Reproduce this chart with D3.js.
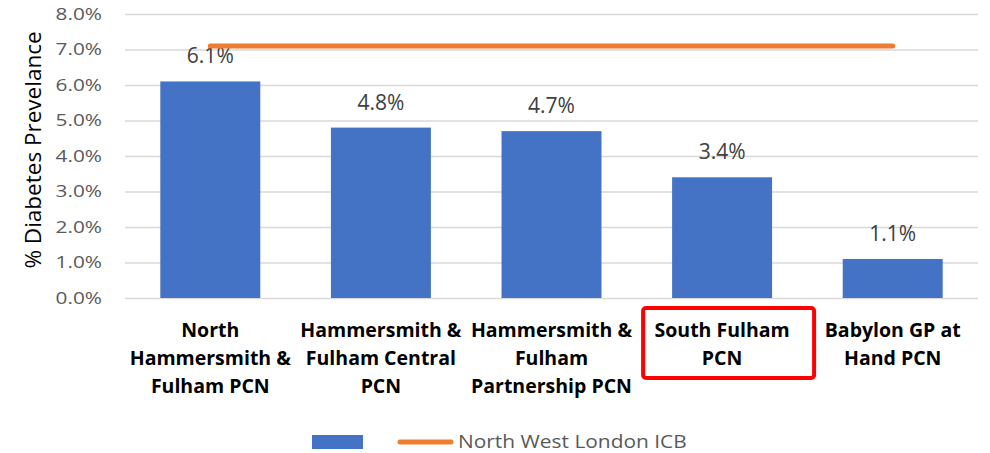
<!DOCTYPE html>
<html>
<head>
<meta charset="utf-8">
<script src="https://cdn.jsdelivr.net/npm/d3@7"></script>
<style>
  body { margin: 0; background: #fff; }
  svg text { font-family: "Open Sans", "Noto Sans", sans-serif; }
</style>
</head>
<body>
<svg id="chart"></svg>
<script>
// chart data
var categories = [
  ["North", "Hammersmith &", "Fulham PCN"],
  ["Hammersmith &", "Fulham Central", "PCN"],
  ["Hammersmith &", "Fulham", "Partnership PCN"],
  ["South Fulham", "PCN"],
  ["Babylon GP at", "Hand PCN"]
]
var prevalence = [0.061, 0.048, 0.047, 0.034, 0.011]
var icbAverage = [0.071, 0.071, 0.071, 0.071, 0.071]
var yTicks = [0, 0.01, 0.02, 0.03, 0.04, 0.05, 0.06, 0.07, 0.08]
var highlighted = 3   // "South Fulham PCN" gets the red box
var legendLabel = "North West London ICB"
var yTitle = "% Diabetes Prevelance"

// magic numbers for the layout
var vis = {
  width: 990,
  height: 453,
  plot: { left: 125, right: 978, top: 14, bottom: 298 },
  barPad: 0.414,
  colors: { bar: "#4472C4", line: "#ED7D31", grid: "#D9D9D9", box: "#FF0000" }
}

var svg = d3.select("#chart")
  .attr("width", vis.width)
  .attr("height", vis.height)

var idx = d3.range(categories.length)

var xScale = d3.scaleBand()
  .domain(idx)
  .range([vis.plot.left, vis.plot.right])
  .paddingInner(vis.barPad)
  .paddingOuter(vis.barPad / 2)

var yScale = d3.scaleLinear()
  .domain([0, 0.08])
  .range([vis.plot.bottom, vis.plot.top])

// y axis turned into grid lines
var yAxis = svg.append("g")
  .attr("transform", "translate(" + vis.plot.left + ",0)")
  .call(d3.axisLeft(yScale).tickValues(yTicks).tickFormat(d3.format(".1%")).tickSize(0).tickPadding(23))

yAxis.select(".domain").remove()
yAxis.selectAll(".tick line")
  .attr("x2", vis.plot.right - vis.plot.left)
  .style("stroke", vis.colors.grid)
  .style("stroke-width", 1.5)
yAxis.selectAll(".tick text")
  .attr("x", null)
  .attr("transform", "translate(-23,0) scale(1.3,1)")
  .style("font-size", "16px")
  .style("fill", "#595959")

// bars
svg.append("g")
  .selectAll("rect")
  .data(prevalence)
  .enter()
  .append("rect")
  .attr("x", function(d, i) { return xScale(i) })
  .attr("y", function(d) { return yScale(d) })
  .attr("width", xScale.bandwidth())
  .attr("height", function(d) { return yScale(0) - yScale(d) })
  .style("fill", vis.colors.bar)

// data labels
svg.append("g")
  .selectAll("text")
  .data(prevalence)
  .enter()
  .append("text")
  .attr("x", function(d, i) { return xScale(i) + xScale.bandwidth() / 2 })
  .attr("y", function(d) { return yScale(d) - 18 })
  .attr("text-anchor", "middle")
  .style("font-size", "21px")
  .style("fill", "#404040")
  .text(d3.format(".1%"))

// ICB line
var line = d3.line()
  .x(function(d, i) { return xScale(i) + xScale.bandwidth() / 2 })
  .y(function(d) { return yScale(d) })

svg.append("path")
  .datum(icbAverage)
  .attr("d", line)
  .style("fill", "none")
  .style("stroke", vis.colors.line)
  .style("stroke-width", 5)
  .style("stroke-linecap", "round")

// category labels
var catGroups = svg.append("g")
  .selectAll("text")
  .data(categories)
  .enter()
  .append("text")
  .attr("text-anchor", "middle")
  .style("font-size", "19.5px")
  .style("font-weight", "bold")
  .style("fill", "#000")

catGroups.selectAll("tspan")
  .data(function(d) { return d })
  .enter()
  .append("tspan")
  .attr("x", function() {
    var i = categories.indexOf(d3.select(this.parentNode).datum())
    return xScale(i) + xScale.bandwidth() / 2
  })
  .attr("y", function(d, j) { return 337 + j * 28 })
  .text(function(d) { return d })

// red highlight box around one label
svg.append("rect")
  .attr("x", xScale(highlighted) + xScale.bandwidth() / 2 - 79)
  .attr("y", 308)
  .attr("width", 171)
  .attr("height", 70)
  .attr("rx", 3)
  .style("fill", "none")
  .style("stroke", vis.colors.box)
  .style("stroke-width", 4)

// y axis title
svg.append("text")
  .attr("transform", "translate(41,150) rotate(-90)")
  .attr("text-anchor", "middle")
  .style("font-size", "22.5px")
  .style("fill", "#000")
  .text(yTitle)

// legend
var legend = svg.append("g")
legend.append("rect")
  .attr("x", 312)
  .attr("y", 435)
  .attr("width", 51)
  .attr("height", 14)
  .style("fill", vis.colors.bar)
legend.append("line")
  .attr("x1", 400).attr("x2", 451)
  .attr("y1", 442).attr("y2", 442)
  .style("stroke", vis.colors.line)
  .style("stroke-width", 5)
  .style("stroke-linecap", "round")
legend.append("text")
  .attr("transform", "translate(458,448) scale(1.1,1)")
  .style("font-size", "19px")
  .style("fill", "#595959")
  .text(legendLabel)
</script>
</body>
</html>
